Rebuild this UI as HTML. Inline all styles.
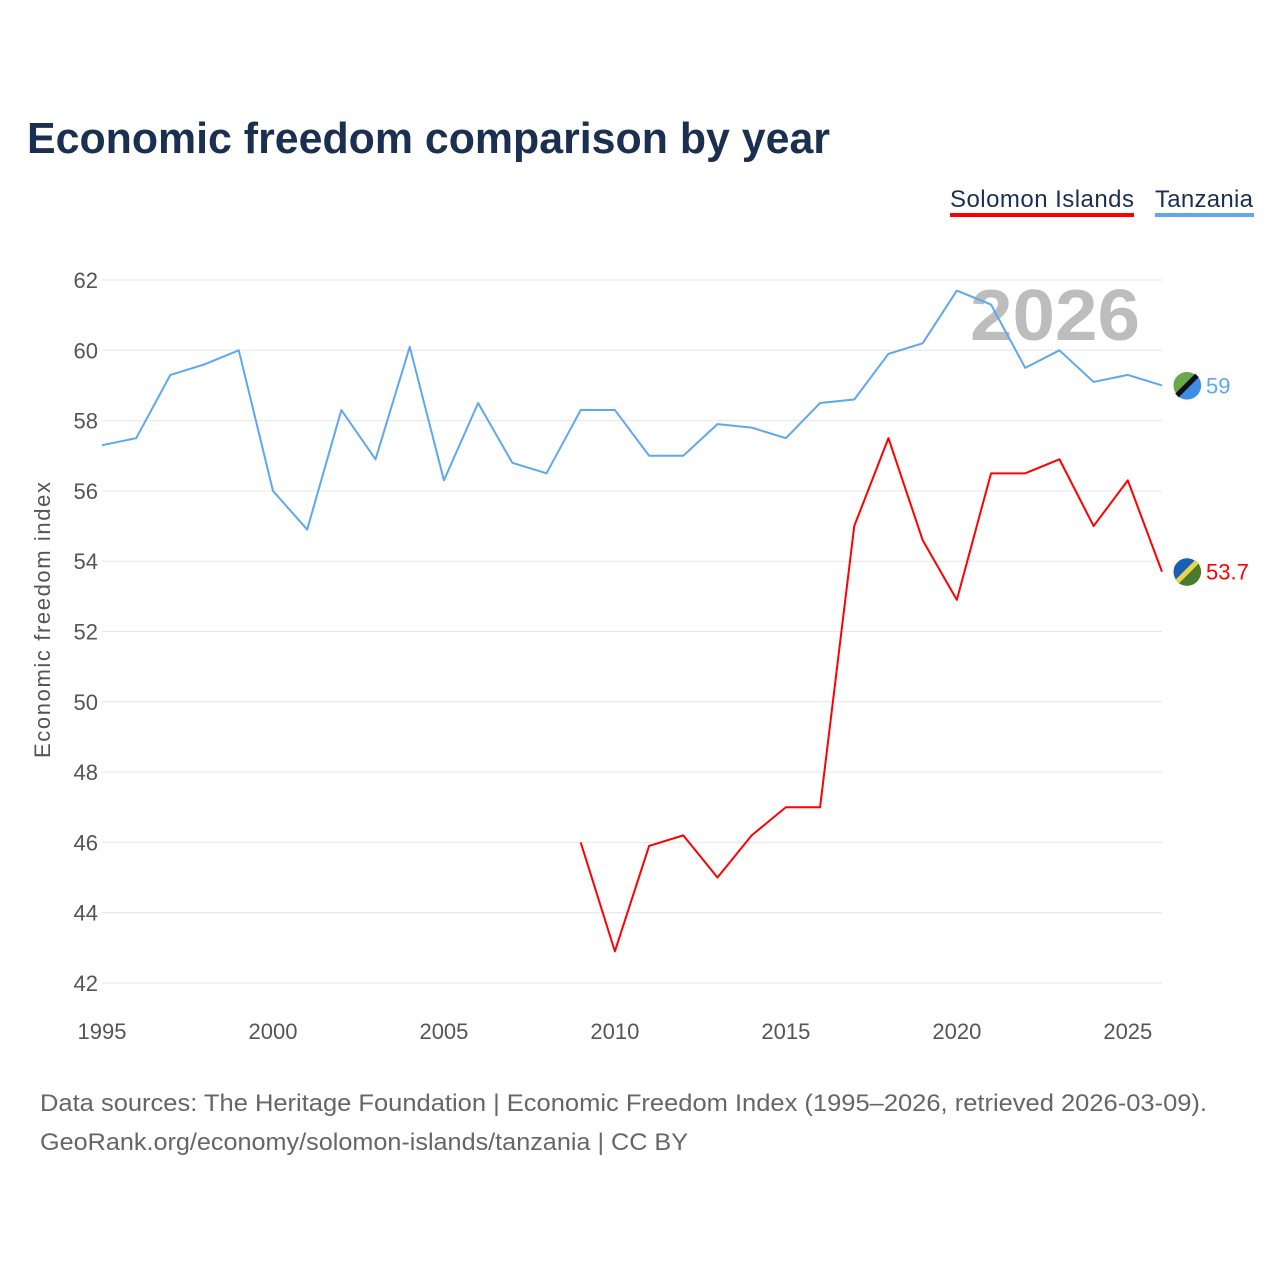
<!DOCTYPE html>
<html><head><meta charset="utf-8"><style>
html,body{margin:0;padding:0;background:#fff;}
body{width:1280px;height:1280px;position:relative;font-family:"Liberation Sans",sans-serif;overflow:hidden;}
</style></head><body>
<svg id="chart" width="1280" height="1280" xmlns="http://www.w3.org/2000/svg" style="position:absolute;left:0;top:0;font-family:'Liberation Sans',sans-serif">
<text x="27" y="153" font-size="44" font-weight="bold" fill="#1b3050" textLength="803" lengthAdjust="spacingAndGlyphs">Economic freedom comparison by year</text>
<g>
<text x="950" y="207" font-size="24" fill="#1b3050" textLength="184">Solomon Islands</text>
<rect x="950" y="213" width="184" height="4" fill="#ff0000"/>
<text x="1155" y="207" font-size="24" fill="#1b3050" textLength="98">Tanzania</text>
<rect x="1155" y="213" width="99" height="4" fill="#5ea8ee"/>
</g>
<text x="1140" y="340" font-size="72" font-weight="bold" fill="#bdbdbd" text-anchor="end" textLength="170" lengthAdjust="spacingAndGlyphs">2026</text>
<g id="grid"></g><g id="yticks"></g><g id="xticks"></g><g id="series"></g>
<text transform="translate(50,620) rotate(-90)" font-size="22" fill="#555" text-anchor="middle" textLength="276">Economic freedom index</text>
<text x="40" y="1111" font-size="24" fill="#666" textLength="1167" lengthAdjust="spacingAndGlyphs">Data sources: The Heritage Foundation | Economic Freedom Index (1995–2026, retrieved 2026-03-09).</text>
<text x="40" y="1150" font-size="24" fill="#666" textLength="648" lengthAdjust="spacingAndGlyphs">GeoRank.org/economy/solomon-islands/tanzania | CC BY</text>
</svg>
<script>
const years=[1995,1996,1997,1998,1999,2000,2001,2002,2003,2004,2005,2006,2007,2008,2009,2010,2011,2012,2013,2014,2015,2016,2017,2018,2019,2020,2021,2022,2023,2024,2025,2026];
const tanzania=[57.3,57.5,59.3,59.6,60.0,56.0,54.9,58.3,56.9,60.1,56.3,58.5,56.8,56.5,58.3,58.3,57.0,57.0,57.9,57.8,57.5,58.5,58.6,59.9,60.2,61.7,61.3,59.5,60.0,59.1,59.3,59.0];
const solomonYears=[2009,2010,2011,2012,2013,2014,2015,2016,2017,2018,2019,2020,2021,2022,2023,2024,2025,2026];
const solomon=[46.0,42.9,45.9,46.2,45.0,46.2,47.0,47.0,55.0,57.5,54.6,52.9,56.5,56.5,56.9,55.0,56.3,53.7];
const yTicks=[42,44,46,48,50,52,54,56,58,60,62];
const xTicks=[1995,2000,2005,2010,2015,2020,2025];
const NS="http://www.w3.org/2000/svg";
const x=v=>102+(v-1995)*(1162-102)/31;
const y=v=>983-(v-42)*(983-280)/20;
function mk(tag,attrs,parent,text){const e=document.createElementNS(NS,tag);for(const k in attrs)e.setAttribute(k,attrs[k]);if(text!=null)e.textContent=text;document.getElementById(parent).appendChild(e);return e;}
yTicks.forEach(t=>{
 const l=mk('line',{x1:102,x2:1162,y1:y(t),y2:y(t),stroke:'#e6e6e6','stroke-width':1},'grid');
 
 
 const tx=mk('text',{x:98,y:y(t)+8,'font-size':22,fill:'#555','text-anchor':'end'},'yticks',t);
 
 
});
xTicks.forEach(t=>{
 const tx=mk('text',{x:x(t),y:1039,'font-size':22,fill:'#555','text-anchor':'middle'},'xticks',t);
 
 
});
function line(xs,vs,color,name,label,flag){
 const p=mk('polyline',{points:xs.map((v,i)=>x(v)+','+y(vs[i])).join(' '),fill:'none',stroke:color,'stroke-width':2,'stroke-linejoin':'round'},'series');
 
 
 const lx=x(xs[xs.length-1]), ly=y(vs[vs.length-1]);
 const c=mk('circle',{cx:lx+25,cy:ly,r:14,fill:flag[0],stroke:'#fff','stroke-width':1},'series');
 
 
 const h=mk('path',{d:`M${lx+15},${ly+10} A14,14 0 0 0 ${lx+35},${ly-10} Z`,fill:flag[2]},'series');
 
 
 const s=mk('line',{x1:lx+15,y1:ly+10,x2:lx+35,y2:ly-10,stroke:flag[1],'stroke-width':5},'series');
 
 
 const t=mk('text',{x:lx+44,y:ly+8,'font-size':22,fill:color},'series',label);
 
 
}
line(years,tanzania,'#5ea8ee','tanzania',String(tanzania[tanzania.length-1]),['#6aa84f','#111','#3a8ee6']);
line(solomonYears,solomon,'#ff0000','solomon-islands',String(solomon[solomon.length-1]),['#1a5fb4','#e8d44d','#4a7a2e']);
</script>
</body></html>
